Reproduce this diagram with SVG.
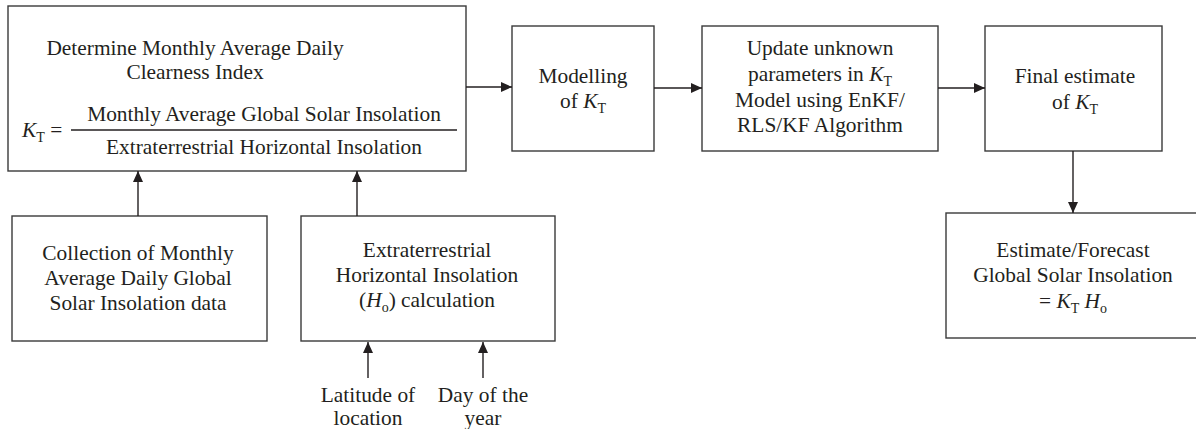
<svg xmlns="http://www.w3.org/2000/svg" width="1196" height="429" viewBox="0 0 1196 429">
<style>
  .box { fill: #ffffff; stroke: #3a3a3a; stroke-width: 1.4; }
  .t { font-family: "Liberation Serif", "Times New Roman", serif; font-size: 21.4px; fill: #231f20; text-anchor: middle; }
  .tl { font-family: "Liberation Serif", "Times New Roman", serif; font-size: 21.4px; fill: #231f20; }
  .i { font-style: italic; }
  .sub { font-size: 14px; }
  .c { stroke: #231f20; stroke-width: 1.4; fill: none; marker-end: url(#ah); }
</style>
<defs>
  <marker id="ah" markerUnits="userSpaceOnUse" markerWidth="12" markerHeight="10" refX="11" refY="5" orient="auto">
    <path d="M0,0 L11,5 L0,10 Z" fill="#231f20"/>
  </marker>
</defs>
<rect width="1196" height="429" fill="#ffffff"/>

<g id="main">
  <rect class="box" x="8" y="6" width="458" height="165"/>
  <text class="t" x="195" y="55">Determine Monthly Average Daily</text>
  <text class="t" x="195" y="79">Clearness Index</text>
  <text class="tl" x="22" y="137"><tspan class="i">K</tspan><tspan class="sub" dy="5">T</tspan><tspan dy="-5"> =</tspan></text>
  <text class="t" x="264" y="121">Monthly Average Global Solar Insolation</text>
  <line x1="71" y1="130" x2="457" y2="130" stroke="#231f20" stroke-width="1.4"/>
  <text class="t" x="264" y="154">Extraterrestrial Horizontal Insolation</text>
</g>

<g id="modelling">
  <rect class="box" x="512" y="26" width="142" height="125"/>
  <text class="t" x="583" y="83">Modelling</text>
  <text class="t" x="583" y="108">of <tspan class="i">K</tspan><tspan class="sub" dy="5">T</tspan></text>
</g>

<g id="update">
  <rect class="box" x="702" y="26" width="236" height="125"/>
  <text class="t" x="820" y="55">Update unknown</text>
  <text class="t" x="820" y="81">parameters in <tspan class="i">K</tspan><tspan class="sub" dy="5">T</tspan></text>
  <text class="t" x="820" y="107">Model using EnKF/</text>
  <text class="t" x="820" y="132">RLS/KF Algorithm</text>
</g>

<g id="final">
  <rect class="box" x="985" y="26" width="177" height="125"/>
  <text class="t" x="1075" y="83">Final estimate</text>
  <text class="t" x="1075" y="109">of <tspan class="i">K</tspan><tspan class="sub" dy="5">T</tspan></text>
</g>

<g id="estimate">
  <rect class="box" x="946" y="213" width="254" height="125"/>
  <text class="t" x="1073" y="257">Estimate/Forecast</text>
  <text class="t" x="1073" y="282">Global Solar Insolation</text>
  <text class="t" x="1073" y="308">= <tspan class="i">K</tspan><tspan class="sub" dy="5">T</tspan><tspan dy="-5"> </tspan><tspan class="i">H</tspan><tspan class="sub" dy="5">o</tspan></text>
</g>

<g id="collection">
  <rect class="box" x="12" y="216" width="255" height="125"/>
  <text class="t" x="138" y="260">Collection of Monthly</text>
  <text class="t" x="138" y="285">Average Daily Global</text>
  <text class="t" x="138" y="310">Solar Insolation data</text>
</g>

<g id="extraterrestrial">
  <rect class="box" x="301" y="216" width="254" height="125"/>
  <text class="t" x="427" y="257">Extraterrestrial</text>
  <text class="t" x="427" y="282">Horizontal Insolation</text>
  <text class="t" x="427" y="307">(<tspan class="i">H</tspan><tspan class="sub" dy="5">o</tspan><tspan dy="-5">) calculation</tspan></text>
</g>

<g id="latitude">
  <text class="t" x="368" y="402">Latitude of</text>
  <text class="t" x="368" y="425">location</text>
</g>

<g id="day">
  <text class="t" x="483" y="402">Day of the</text>
  <text class="t" x="483" y="425">year</text>
</g>

<g id="connectors">
  <line class="c" x1="466" y1="87" x2="512" y2="87"/>
  <line class="c" x1="654" y1="88" x2="702" y2="88"/>
  <line class="c" x1="938" y1="88" x2="985" y2="88"/>
  <line class="c" x1="1073" y1="151" x2="1073" y2="213"/>
  <line class="c" x1="138" y1="216" x2="138" y2="171"/>
  <line class="c" x1="357" y1="216" x2="357" y2="171"/>
  <line class="c" x1="368" y1="378" x2="368" y2="342"/>
  <line class="c" x1="483" y1="378" x2="483" y2="342"/>
</g>
</svg>
